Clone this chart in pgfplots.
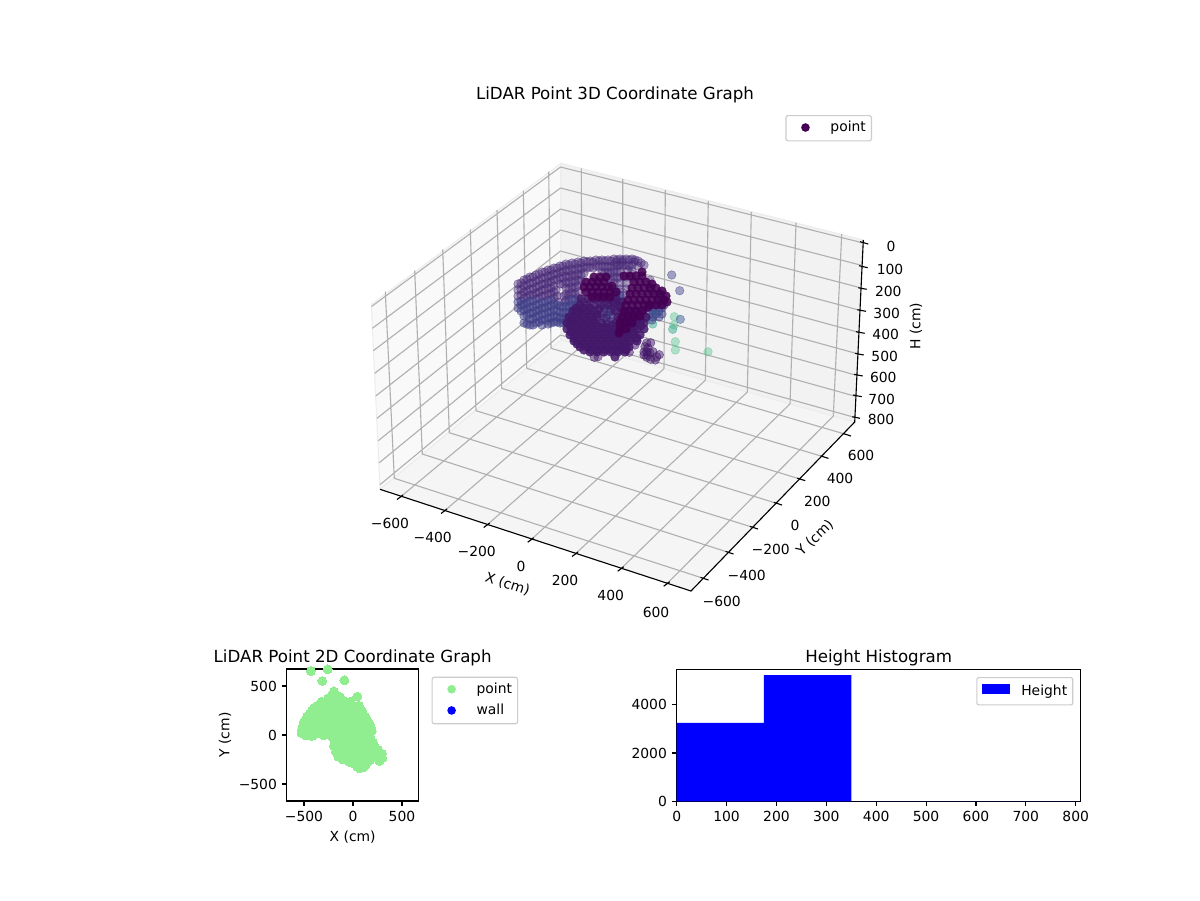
\documentclass[border=0pt]{standalone}
\usepackage{fontspec}
\setmainfont{DejaVu Sans}
\usepackage{pgfplots}
\pgfplotsset{compat=1.18}
\definecolor{paneL}{rgb}{0.975,0.975,0.975}
\definecolor{paneR}{rgb}{0.95,0.95,0.95}
\definecolor{paneF}{rgb}{0.9625,0.9625,0.9625}
\definecolor{gridc}{rgb}{0.69,0.69,0.69}
\definecolor{vdark}{HTML}{440154}
\definecolor{vmid}{HTML}{43186A}
\definecolor{vpur}{HTML}{482878}
\definecolor{vblue}{HTML}{3F3E88}
\definecolor{vsteel}{HTML}{3B5F96}
\definecolor{vteal}{HTML}{2AA58A}
\definecolor{vgreen}{HTML}{4CC38A}
\definecolor{lgreen}{HTML}{90EE90}
\pgfplotsset{
  mplaxis/.style={
    scale only axis, axis line style={line width=0.8pt,black},
    tick align=outside, major tick length=3.5pt,
    every tick/.style={black,line width=0.8pt},
    xtick pos=bottom, ytick pos=left,
    tick label style={font=\fontsize{10}{12}\selectfont},
    label style={font=\fontsize{10}{12}\selectfont},
    title style={font=\fontsize{12}{14}\selectfont,yshift=-7pt},
  },
  pts/.style n args={3}{only marks, mark=*, mark size=3.1pt, forget plot, color=#1,
    mark options={draw=#1,fill=#1,line width=0.3pt,fill opacity=#2,draw opacity=#3}},
  mpllegend/.style={
    legend cell align=left,
    legend style={draw=black!20,line width=0.8pt,rounded corners=1.5pt,fill=white,
      inner xsep=4pt,inner ysep=4.6pt,row sep=6.3pt,
      nodes={inner sep=0pt,text height=7pt,text depth=2pt,font=\fontsize{10}{12}\selectfont},
      /tikz/every odd column/.append style={column sep=8pt}},
  },
  dotimg/.style={legend image code/.code={\path[draw=none,fill=none] (0pt,-3pt) rectangle (20pt,3pt);\fill[#1,draw=none] (10pt,0.5pt) circle (3.1pt);}},
}
\begin{document}
\begin{tikzpicture}
\path[use as bounding box] (0,0) rectangle (864pt,648pt);
% ---------- 3D panel, drawn on a pixel canvas ----------
\begin{axis}[at={(0,0)},anchor=south west,scale only axis,width=864pt,height=648pt,
  xmin=0,xmax=1200,ymin=0,ymax=900,y dir=reverse,hide axis,clip=false,unbounded coords=jump,mpllegend,
  legend style={at={(axis cs:872,115)},anchor=north east}]
\addplot[fill=paneL,draw=black!7,line width=0.8pt,forget plot] coordinates {(371.3,304.3)(561,163.3)(561,340)(380,489.3)} --cycle;
\addplot[fill=paneR,draw=black!7,line width=0.8pt,forget plot] coordinates {(561,163.3)(863.3,240)(854.7,422)(561,340)} --cycle;
\addplot[fill=paneF,draw=black!7,line width=0.8pt,forget plot] coordinates {(380,489.3)(561,340)(854.7,422)(691,591)} --cycle;
% grid
\addplot[gridc,line width=0.8pt,forget plot] coordinates {
(385.3,291.7)(394.3,478.3)(nan,nan)(414.7,270.7)(422.3,454)(nan,nan)(442.7,249.3)(449.3,432.7)(nan,nan)(470.3,229.3)(476,410.7)(nan,nan)(497,210)(501.7,388.3)(nan,nan)(523.3,190.7)(526.7,368.3)(nan,nan)(548.7,171.7)(551,348.3)(nan,nan)
(371.5,306.5)(560.5,167)(nan,nan)(372.3,328.3)(560.5,188)(nan,nan)(373.3,350.7)(560.5,209)(nan,nan)(374.7,373.3)(560.5,230)(nan,nan)(375.7,396)(560.5,251)(nan,nan)(377,418.3)(560.5,272)(nan,nan)(378.3,440.7)(560.5,293)(nan,nan)(379.3,462.7)(560.5,314)(nan,nan)(380,484.7)(560.5,335)(nan,nan)
(581.3,168.3)(582,345.9)(nan,nan)(622.7,179)(623,357.3)(nan,nan)(665.3,190)(664,368.7)(nan,nan)(708.3,201)(705.3,380.3)(nan,nan)(751.3,212)(747.3,392)(nan,nan)(796,222.7)(790,403.9)(nan,nan)(841.7,234)(833.3,416)(nan,nan)
(560.5,167)(863.3,243)(nan,nan)(560.5,188)(862.3,265.5)(nan,nan)(560.5,209)(861.3,288)(nan,nan)(560.5,230)(860.7,310.5)(nan,nan)(560.5,251)(859.3,332.5)(nan,nan)(560.5,272)(858.3,354)(nan,nan)(560.5,293)(857.3,375.5)(nan,nan)(560.5,314)(856.3,396.5)(nan,nan)(560.5,335)(855,417.5)(nan,nan)
(400,497.3)(582,345.9)(nan,nan)(444,511.3)(623,357.3)(nan,nan)(486.7,525.3)(664,368.7)(nan,nan)(530.7,540)(705.3,380.3)(nan,nan)(575,554.3)(747.3,392)(nan,nan)(620.7,569)(790,403.9)(nan,nan)(666.7,584)(833.3,416)(nan,nan)
(394.3,478.3)(703.3,578.3)(nan,nan)(422.3,454)(728.3,552.3)(nan,nan)(449.3,432.7)(752.7,527.3)(nan,nan)(476,410.7)(776.7,503.3)(nan,nan)(501.7,388.3)(800,479)(nan,nan)(526.7,368.3)(823.3,456.7)(nan,nan)(551,348.3)(845.7,434.3)
};
% axes and ticks
\addplot[black,line width=0.8pt,forget plot] coordinates {(380,489.3)(691,591)(854.7,422)(863.3,240)};
\addplot[black,line width=0.8pt,forget plot] coordinates {
(397,499.5)(403,495)(nan,nan)(441,513.5)(447,509)(nan,nan)(483.7,527.5)(489.7,523)(nan,nan)(527.7,542.2)(533.7,537.7)(nan,nan)(572,556.5)(578,552)(nan,nan)(617.7,571.2)(623.7,566.7)(nan,nan)(663.7,586.2)(669.7,581.7)(nan,nan)
(700.5,577.4)(708.5,580)(nan,nan)(725.5,551.4)(733.5,554)(nan,nan)(749.9,526.4)(757.9,529)(nan,nan)(773.9,502.4)(781.9,505)(nan,nan)(797.2,478.1)(805.2,480.7)(nan,nan)(820.5,455.8)(828.5,458.4)(nan,nan)(842.9,433.4)(850.9,436)(nan,nan)
(860,241.7)(868.3,244)(nan,nan)(859,265.7)(867.7,267.7)(nan,nan)(858.3,287.7)(866.7,289.3)(nan,nan)(857.3,309.7)(866,311.3)(nan,nan)(856,331.7)(864.7,333.3)(nan,nan)(855,353.3)(863.7,355)(nan,nan)(854,374.3)(862.7,376)(nan,nan)(853,395)(861.7,396.7)(nan,nan)(852.3,416.7)(860,418.3)
};
% far outliers
\addplot[pts={vgreen}{0.4}{0.5}] coordinates {(708,351.7)(675.3,350)(675.3,341.7)(674.3,316.7)(674,325)};
\addplot[pts={vteal}{0.45}{0.55}] coordinates {(652.7,324)(672.7,329.3)};
\addplot[pts={vsteel}{0.5}{0.6}] coordinates {(680.3,319.3)};
\addplot[pts={vblue}{0.45}{0.6}] coordinates {(671.7,275)(679.7,290.7)};
% arch, upper part
\addplot[pts={vpur}{0.42}{0.6}] coordinates {
(518,284)(518,290)(518,296)
(521,283)(521,289)(521,295)(521,301)
(524,280)(524,286)(524,292)(524,298)
(527,279)(527,285)(527,291)(527,297)
(530,277)(530,283)(530,289)(530,295)
(533,277)(533,283)(533,289)(533,295)
(536,275)(536,281)(536,287)(536,293)(536,299)
(539,274)(539,280)(539,286)(539,292)(539,298)
(542,272)(542,278)(542,284)(542,290)(542,296)
(545,272)(545,278)(545,284)(545,290)(545,296)
(548,270)(548,276)(548,282)(548,288)(548,294)(548,300)
(551,270)(551,276)(551,282)(551,288)(551,294)
(554,268)(554,274)(554,280)(554,286)(554,292)(554,298)
(557,268)(557,274)(557,280)(556,290)(557,296)(558,302)
(560,266)(560,272)(560,278)(560,284)
(563,266)(563,272)(563,278)(563,284)(564,296)(565,302)
(566,264)(566,270)(566,276)(566,282)(566,288)(566,294)(566,300)
(569,265)(569,271)(569,277)(569,283)(569,289)(569,295)
(572,263)(572,269)(572,275)(572,281)(572,287)(572,293)(572,299)
(575,264)(575,270)(575,276)(575,282)(575,288)(575,294)
(578,262)(578,268)(578,274)(578,280)(578,286)(578,292)(578,298)
(581,263)(581,269)(581,275)(581,281)(584,261)(584,267)(584,273)(587,262)(587,268)(590,261)(590,267)(593,262)(593,268)(596,260)(596,266)(599,261)(599,267)
(602,260)(602,266)(602,272)(605,261)(605,267)(605,273)(608,260)(608,266)(608,272)(608,278)(611,261)(611,267)(611,273)(611,279)
(614,259)(614,265)(614,271)(614,277)(614,283)(617,260)(617,266)(617,272)(617,278)(620,259)(620,265)(620,271)(623,260)(623,266)(626,259)(626,265)(629,260)(629,266)
(632,259)(635,260)(638,261)(641,263)(644,265)(632,265)(638,266)(628,270)(616,262)(622,262)(634,262)
(620,277)(626,283)(620,283)(626,289)(620,289)(626,295)(620,295)(632,271)(626,277)(632,277)
(651,290)(657,296)(662,298)(650,280)
};
% arch, lower part
\addplot[pts={vblue}{0.5}{0.65}] coordinates {
(518,302)(518,308)(521,305)(521,311)(524,304)(524,310)(524,316)(524,323)(527,303)(527,309)(527,315)(527,324)
(530,301)(530,307)(530,313)(530,319)(530,325)(533,301)(533,307)(533,313)(533,319)(533,325)
(536,305)(536,311)(536,317)(536,323)(539,304)(539,310)(539,316)(539,322)
(542,302)(542,308)(542,314)(542,320)(542,325)(545,302)(545,308)(545,314)(545,320)
(548,306)(548,312)(548,318)(548,324)(551,300)(551,306)(551,312)(551,318)(551,323)
(554,304)(554,310)(554,316)(554,322)(557,305)(557,311)(557,317)(557,322)
(560,306)(560,312)(560,318)(560,323)(563,307)(563,313)(563,319)(563,323)
(566,306)(566,312)(566,318)(566,322)(569,301)(569,307)(569,313)(569,319)
(572,305)(572,311)(572,317)(572,322)(575,300)(575,306)(575,312)
(578,304)(578,310)(584,302)
(614,289)(614,295)(614,301)(614,307)(620,296)(620,302)(620,308)(617,292)(617,298)(617,304)
(604,306)(610,306)(604,312)(610,312)(604,318)(610,318)(607,324)(601,315)(607,309)(607,315)(607,321)(613,315)
(650,308)(656,308)(662,308)(650,314)(656,314)(662,314)(646,318)(652,320)(653,311)(659,311)(653,317)(659,317)(658,304)(664,305)
};
\addplot[pts={vsteel}{0.25}{0.3}] coordinates {(655,311)(652,316)(658,312)};
% body
\addplot[pts={vmid}{0.85}{0.9}] coordinates {
(581,299)(588,299)(595,299)(602,299)(609,299)(616,299)(622,302)
(580,305)(587,305)(594,305)(601,305)(608,305)(614,303)(620,306)
(573,311)(580,311)(587,311)(594,311)(599,309)(615,311)(622,311)(629,311)(636,311)(643,311)
(569,317)(576,317)(583,317)(590,317)(597,317)(618,317)(625,317)(632,317)(639,317)(646,317)
(567,323)(574,323)(581,323)(588,323)(595,323)(602,323)(616,323)(623,323)(630,323)(637,323)(644,323)
(567,329)(574,329)(581,329)(588,329)(595,329)(602,329)(609,329)(616,329)(623,329)(630,329)(637,329)(644,329)
(570,335)(577,335)(584,335)(591,335)(598,335)(605,335)(612,335)(619,335)(626,335)(633,335)(640,335)
(574,341)(581,341)(588,341)(595,341)(602,341)(609,341)(616,341)(623,341)(630,341)(637,341)
(580,347)(587,347)(594,347)(601,347)(608,347)(615,347)(622,347)(629,347)
(590,352)(597,352)(604,352)(611,352)(618,352)(625,352)
(615,357)
(572,320)(579,320)(586,320)(593,320)(620,320)(627,320)(634,320)(641,320)
(571,332)(578,332)(585,332)(592,332)(599,332)(606,332)(613,332)(620,332)(627,332)(634,332)
(577,344)(584,344)(591,344)(598,344)(605,344)(612,344)(619,344)(626,344)
(576,308)(583,308)(590,308)(597,314)(583,314)(576,314)(590,314)(570,326)(577,326)(584,326)(591,326)(598,326)(620,326)(627,326)(634,326)(641,326)
(574,338)(581,338)(588,338)(595,338)(602,338)(609,338)(616,338)(623,338)(630,338)(637,338)
(584,350)(591,350)(598,350)(605,350)(612,350)(619,350)(626,350)
(612,325)(605,327)
};
\addplot[pts={vmid}{0.4}{0.6}] coordinates {(606,318)(611,322)(603,313)(611,310)};
% lower fringe
\addplot[pts={vmid}{0.5}{0.65}] coordinates {
(594.3,357.3)(598,356.7)(629.3,352.3)(635,345)(626.7,348.3)
(646.7,343)(650.7,342.7)(645,346.7)(648,348)(653,351.7)(659.3,354.7)(644,355)(646.7,357.3)(650.7,359.3)(655.3,360)(656.7,356.7)(650,353)(646.7,351.7)(644,352)(648,355)
};
% darkest parts
\addplot[pts={vdark}{0.88}{0.9}] coordinates {
(594,277)(600,277)(606,277)(586,282)(592,282)(598,282)(604,282)(584,287)(590,287)(596,287)(602,287)(608,287)
(586,292)(592,292)(598,292)(604,292)(610,292)(616,292)(592,297)(598,297)(604,297)(610,297)(612,286)
(624,276)(630,276)(636,276)(642,276)(642,272)
(634,282)(640,282)(646,282)(652,284)
(632,288)(638,288)(644,288)(650,288)(656,288)(662,291)
(630,294)(636,294)(642,294)(648,294)(654,294)(660,294)(666,296)
(628,300)(634,300)(640,300)(646,300)(652,300)(658,300)(664,300)(667,302)
(626,305)(632,305)(638,305)(644,305)(650,305)(656,305)(662,305)
(624,311)(630,311)(636,311)(642,311)(648,307)
(622,317)(628,317)(634,317)(640,316)
(620,323)(626,323)(632,323)(620,329)(626,329)(619,333)
};
\addlegendimage{dotimg=vdark}
\addlegendentry{point}
% titles and labels of the 3D panel
\node[font=\fontsize{12}{14}\selectfont] at (615,95) {LiDAR Point 3D Coordinate Graph};
\node at (390,523.3) {−600};\node at (432.7,537.3) {−400};\node at (476.7,551.3) {−200};\node at (521,566.7) {0};
\node at (565,580) {200};\node at (610.7,595) {400};\node at (656,612) {600};
\node at (721.7,601) {−600};\node at (746.7,575) {−400};\node at (770.7,549) {−200};\node at (795,525.7) {0};
\node at (817.3,501) {200};\node at (840,478.3) {400};\node at (861,455) {600};
\node at (891,246) {0};\node at (890,269.3) {100};\node at (888.3,291) {200};\node at (886.7,313.3) {300};\node at (885.7,334) {400};
\node at (884.7,356) {500};\node at (883.3,377.3) {600};\node at (881.7,399) {700};\node at (881,419) {800};
\node[rotate=-18] at (507.5,584) {X (cm)};
\node[rotate=44] at (815,538) {Y (cm)};
\node[rotate=90] at (916,326) {H (cm)};
\end{axis}
% ---------- 2D scatter ----------
\begin{axis}[mplaxis,mpllegend,at={(206.4pt,71.3pt)},anchor=south west,width=95pt,height=95pt,
  xmin=-677,xmax=670,ymin=-673,ymax=673,
  xtick={-500,0,500},xticklabels={−500,0,500},ytick={-500,0,500},yticklabels={−500,0,500},
  xlabel={X (cm)},ylabel={Y (cm)},ylabel shift=-1.5pt,title={LiDAR Point 2D Coordinate Graph},
  legend style={at={(1.0985,0.9417)},anchor=north west}]
\addplot[only marks,mark=*,mark size=3.2pt,color=lgreen,mark options={draw=lgreen,fill=lgreen,line width=0pt},forget plot] coordinates {
(-429,653)(-258,670)(-313,551)(-88,558)(44,391)
(-194,445)(-215,400)(-160,400)
(-320,340)(-260,340)(-200,340)(-140,340)(-80,340)(-25,340)
(-395,280)(-335,280)(-275,280)(-215,280)(-155,280)(-95,280)(-35,280)(20,280)
(-440,220)(-380,220)(-320,220)(-260,220)(-200,220)(-140,220)(-80,220)(-20,220)(35,220)
(-455,160)(-395,160)(-335,160)(-275,160)(-215,160)(-155,160)(-95,160)(-35,160)(25,160)(85,160)(105,160)
(-485,100)(-425,100)(-365,100)(-305,100)(-245,100)(-185,100)(-125,100)(-65,100)(-5,100)(55,100)(120,100)
(-500,50)(-440,50)(-380,50)(-320,50)(-260,50)(-200,50)(-140,50)(-80,50)(-20,50)(40,50)(100,50)(155,50)
(-500,10)(-440,10)(-380,10)(-320,10)(-260,10)(-200,10)(-140,10)(-80,10)(-20,10)(40,10)(100,10)(140,10)
(-170,-50)(-110,-50)(-50,-50)(10,-50)(70,-50)(130,-50)(155,-50)
(-160,-110)(-100,-110)(-40,-110)(20,-110)(80,-110)(140,-110)(190,-110)
(-145,-170)(-85,-170)(-25,-170)(35,-170)(95,-170)(155,-170)(200,-170)(248,-170)
(-100,-225)(-40,-225)(20,-225)(80,-225)(140,-225)(200,-225)(270,-225)(282,-238)(240,-200)
(-20,-280)(40,-280)(100,-280)(75,-310)
(-360,300)(-420,250)(-470,190)(-505,130)(-520,60)(-525,20)(-480,-5)(-420,-10)(-300,-5)(-215,-10)(-255,375)(-130,385)
(60,300)(90,250)(125,190)(150,145)(170,110)(185,70)(190,40)(165,20)
(175,-20)(205,-75)(225,-130)(255,-150)(295,-190)(300,-235)(270,-265)(170,-260)(135,-300)(105,-330)(70,-340)(40,-320)(10,-290)
(-40,-270)(-100,-250)(-150,-220)(-175,-170)(-195,-110)(-190,-50)
};
\addlegendimage{dotimg=lgreen}
\addlegendentry{point}
\addlegendimage{dotimg=blue}
\addlegendentry{wall}
\end{axis}
% ---------- histogram ----------
\begin{axis}[mplaxis,mpllegend,at={(487.2pt,71.1pt)},anchor=south west,width=290.9pt,height=95pt,
  xmin=0,xmax=810,ymin=0,ymax=5466,
  xtick={0,100,200,300,400,500,600,700,800},xticklabels={0,100,200,300,400,500,600,700,800},
  ytick={0,2000,4000},yticklabels={0,2000,4000},
  title={Height Histogram},
  legend style={at={(0.9817,0.9417)},anchor=north east}]
\addplot[ybar interval,fill=blue,draw=none,forget plot] coordinates {(0,3250)(175,5230)(350,0)(810,0)};
\addlegendimage{legend image code/.code={\path[draw=none,fill=none] (0pt,-3pt) rectangle (20pt,3pt);\fill[blue,draw=none,sharp corners] (0pt,-1pt) rectangle (20pt,6pt);}}
\addlegendentry{Height}
\end{axis}
\end{tikzpicture}
\end{document}
